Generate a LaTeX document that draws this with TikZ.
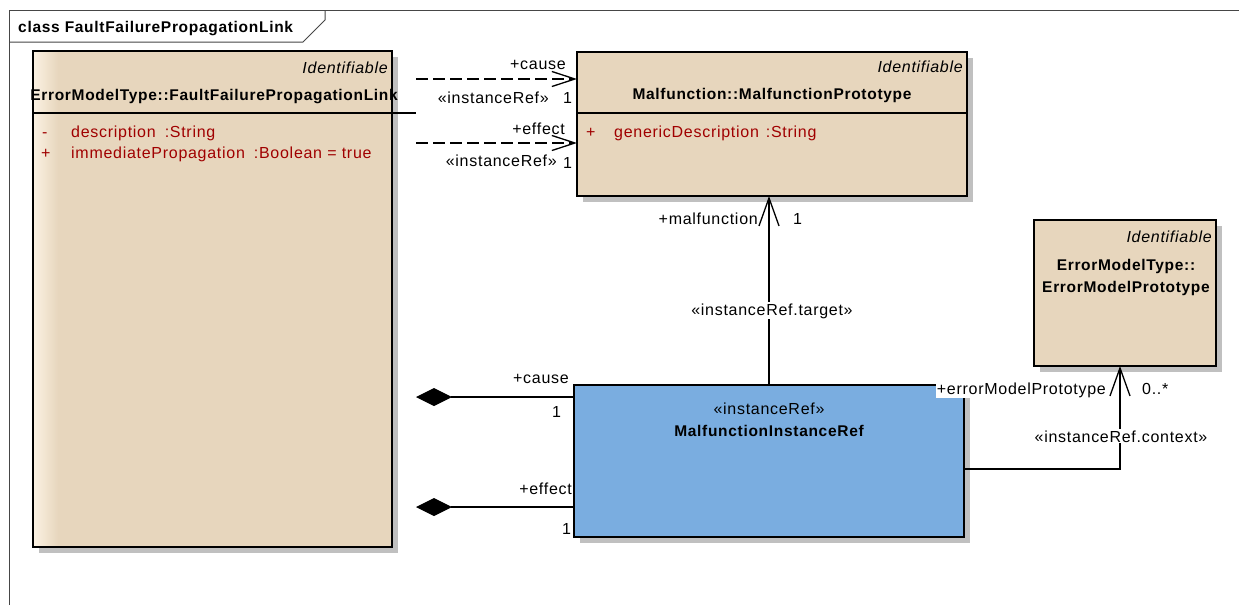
\documentclass[tikz,border=0pt]{standalone}
\usepackage{fontspec}
\setmainfont{Liberation Sans}[LetterSpace=4.5]
\usetikzlibrary{arrows.meta,shadows}
\definecolor{umltan}{RGB}{231,214,189}
\definecolor{umltanlight}{RGB}{251,241,226}
\definecolor{umlblue}{RGB}{122,173,224}
\definecolor{attrred}{RGB}{160,0,0}
\definecolor{shadowgray}{RGB}{192,192,192}
\definecolor{framegray}{RGB}{70,70,70}
\begin{document}
\begin{tikzpicture}[x=1pt,y=-1pt,
  box/.style={draw=black, line width=1.8pt, inner sep=0pt, outer sep=0pt, anchor=north west,
    drop shadow={shadow xshift=6pt, shadow yshift=-6pt, fill=shadowgray, opacity=1}},
  tanbox/.style={box, fill=umltan},
  bluebox/.style={box, fill=umlblue},
  lbl/.style={inner sep=0pt, font=\fontsize{16}{19}\selectfont},
  bold/.style={inner sep=0pt, font=\fontsize{15.5}{19}\selectfont\bfseries},
  ital/.style={inner sep=0pt, font=\fontsize{16}{19}\selectfont\itshape},
  attr/.style={inner sep=0pt, text=attrred, font=\fontsize{16}{19}\selectfont},
  wlbl/.style={lbl, fill=white, inner sep=1pt},
  conn/.style={line width=1.3pt, draw=black},
  dashconn/.style={conn, dash pattern=on 12pt off 5pt},
  openhead/.style={-{Straight Barb[length=28pt,width=20pt,line width=1.3pt]}},
  dashhead/.style={-{Straight Barb[length=23pt,width=15pt,line width=1.3pt]}},
  comp/.style={{Diamond[length=36pt,width=18pt]}-}
]
\useasboundingbox (0,0) rectangle (1239,605);
\fill[white] (0,0) rectangle (1239,605);

% frame
\coordinate (fbl) at (9,605);
\coordinate (ftl) at (9,10);
\coordinate (ftr) at (1239,10);
\draw[framegray, line width=1pt] (fbl) -- (ftl) -- (ftr);
\draw[framegray, line width=1pt] (325,10) -- (325,20) -- (303,42) -- (9,42);
\node[bold, anchor=base west] (title) at (18,32) {class FaultFailurePropagationLink};

% boxes
\node[tanbox, minimum width=359pt, minimum height=496pt] (ffpl) at (33,51) {};
\shade[left color=umltanlight, right color=umltan] (34,52.2) rectangle (58,545.8);
\node[tanbox, minimum width=390pt, minimum height=144pt] (mal) at (577,52) {};
\node[tanbox, minimum width=182pt, minimum height=146pt] (emp) at (1034,220) {};
\node[bluebox, minimum width=390pt, minimum height=152pt] (mir) at (574,385) {};

% separators
\coordinate (sepL) at (416,113);
\draw[conn] (ffpl.west |- sepL) -- (sepL);
\draw[conn] (mal.west |- sepL) -- (mal.east |- sepL);

% texts of FaultFailurePropagationLink
\node[ital, anchor=base east] (ffplst) at (388,73) {Identifiable};
\node[bold, anchor=base] (ffplname) at (214,100) {ErrorModelType::FaultFailurePropagationLink};
\node[attr, anchor=base west] (a1v) at (42,137) {-};
\node[attr, anchor=base west] (a1) at (71,137) {description\hspace{9pt}:String};
\node[attr, anchor=base west] (a2v) at (41,158) {+};
\node[attr, anchor=base west] (a2) at (71,158) {immediatePropagation\hspace{9pt}:Boolean = true};

% texts of MalfunctionPrototype
\node[ital, anchor=base east] (malst) at (963,72) {Identifiable};
\node[bold, anchor=base] (malname) at (772,99) {Malfunction::MalfunctionPrototype};
\node[attr, anchor=base west] (m1v) at (586,137) {+};
\node[attr, anchor=base west] (m1) at (614,137) {genericDescription\hspace{7pt}:String};

% texts of ErrorModelPrototype
\node[ital, anchor=base east] (empst) at (1212,242) {Identifiable};
\node[bold, anchor=base] (empn1) at (1126,270) {ErrorModelType::};
\node[bold, anchor=base] (empn2) at (1126,292) {ErrorModelPrototype};

% texts of MalfunctionInstanceRef
\node[lbl, anchor=base] (mirst) at (769,414) {«instanceRef»};
\node[bold, anchor=base] (mirname) at (769,436) {MalfunctionInstanceRef};

% dashed instanceRef dependencies
\coordinate (d1s) at (416,79);
\coordinate (d2s) at (416,143);
\draw[dashconn, dashhead] (d1s) -- (mal.west |- d1s);
\draw[dashconn, dashhead] (d2s) -- (mal.west |- d2s);
\node[lbl, anchor=base east] (d1role) at (566,69) {+cause};
\node[lbl, anchor=base east] (d1st) at (549,103) {«instanceRef»};
\node[lbl, anchor=base west] (d1m) at (563,103) {1};
\node[lbl, anchor=base east] (d2role) at (565,134) {+effect};
\node[lbl, anchor=base east] (d2st) at (557,166) {«instanceRef»};
\node[lbl, anchor=base west] (d2m) at (563,168) {1};

% target association
\draw[conn, openhead] (mir.north) -- (mir.north |- mal.south);
\node[lbl, anchor=base east] (trole) at (758,224) {+malfunction};
\node[lbl, anchor=base west] (tm) at (793,224) {1};
\node[wlbl, anchor=base] (tst) at (772,315) {«instanceRef.target»};

% context association
\coordinate (ctxc) at (1120,469);
\draw[conn, openhead] (mir.east |- ctxc) -- (ctxc) -- (ctxc |- emp.south);
\node[wlbl, anchor=base east] (crole) at (1107,394) {+errorModelPrototype};
\node[lbl, anchor=base west] (cm) at (1142,394) {0..*};
\node[wlbl, anchor=base] (cst) at (1121,442) {«instanceRef.context»};

% compositions
\coordinate (k1) at (416,397);
\coordinate (k2) at (416,507);
\draw[conn, comp] (k1) -- (mir.west |- k1);
\draw[conn, comp] (k2) -- (mir.west |- k2);
\node[lbl, anchor=base east] (k1role) at (569,383) {+cause};
\node[lbl, anchor=base west] (k1m) at (552,417) {1};
\node[lbl, anchor=base east] (k2role) at (572,494) {+effect};
\node[lbl, anchor=base west] (k2m) at (562,534) {1};
\end{tikzpicture}
\end{document}
